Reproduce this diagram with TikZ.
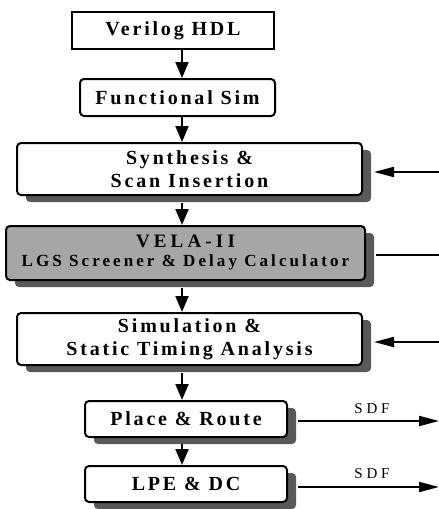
\documentclass[tikz,border=0pt]{standalone}
\usepackage{fontspec}
\setmainfont{Liberation Serif}
\newfontfamily\fa[LetterSpace=14]{Liberation Serif}
\newfontfamily\fb[LetterSpace=18]{Liberation Serif}
\newfontfamily\fv[LetterSpace=22]{Liberation Serif}
\newfontfamily\fc[LetterSpace=25]{Liberation Serif}
\usetikzlibrary{arrows.meta,shadows,calc}
\begin{document}
\begin{tikzpicture}[x=1pt,y=-1pt,
  boxbase/.style={draw=black,line width=2pt,fill=white,inner sep=0pt,align=center,
     font=\fa\bfseries\fontsize{20}{23}\selectfont},
  rbox/.style={boxbase,rounded corners=4pt},
  sbox/.style={rbox,drop shadow={shadow xshift=9pt,shadow yshift=-7pt,fill=black!65,opacity=1}},
  arr/.style={line width=2pt,-{Triangle[length=16pt,width=13pt]}},
  harr/.style={line width=2pt,-{Triangle[length=20pt,width=10pt]}},
  plain/.style={line width=2pt},
  sdf/.style={font=\fc\fontsize{15}{17}\selectfont,inner sep=0pt}]
\fill[white] (0,0) rectangle (439,509);
\useasboundingbox (0,0) rectangle (439,509);
\coordinate (ax) at (182,0);
\node[boxbase,minimum width=202pt,minimum height=37pt] (verilog) at (173,30.5) {Verilog HDL};
\node[rbox,minimum width=195pt,minimum height=37pt] (func) at (177.5,97.5) {Functional Sim};
\node[sbox,minimum width=345pt,minimum height=52pt] (synth) at (189.5,169) {Synthesis \&\\Scan Insertion};
\node[sbox,fill=black!35,minimum width=359pt,minimum height=54pt] (vela) at (185.5,253)
  {{\fv\bfseries\fontsize{19}{21}\selectfont VELA-II}\\[-4pt]{\fb\bfseries\fontsize{17}{20}\selectfont LGS Screener \& Delay Calculator}};
\node[sbox,minimum width=345pt,minimum height=52pt] (sim) at (189.5,339) {Simulation \&\\Static Timing Analysis};
\node[sbox,minimum width=202pt,minimum height=36pt] (pr) at (186,419) {Place \& Route};
\node[sbox,minimum width=202pt,minimum height=36pt] (lpe) at (186,484) {LPE \& DC};
% vertical flow
\draw[arr] (verilog.south -| ax) -- (func.north -| ax);
\draw[arr] (func.south -| ax) -- (synth.north -| ax);
\draw[arr] ([yshift=-7pt]synth.south -| ax) -- (vela.north -| ax);
\draw[arr] ([yshift=-7pt]vela.south -| ax) -- (sim.north -| ax);
\draw[arr] ([yshift=-7pt]sim.south -| ax) -- (pr.north -| ax);
\draw[arr] ([yshift=-6pt]pr.south -| ax) -- (lpe.north -| ax);
% right side inputs
\coordinate (r1) at (439,172);
\coordinate (r2) at (439,255);
\coordinate (r3) at (439,342);
\draw[harr] (r1) -- ([xshift=11pt]r1 -| synth.east);
\draw[plain] (r2) -- ([xshift=10pt]r2 -| vela.east);
\draw[harr] (r3) -- ([xshift=11pt]r3 -| sim.east);
% SDF outputs
\coordinate (o1) at (439,421);
\coordinate (o2) at (439,487);
\draw[harr] ([xshift=10pt]o1 -| pr.east) -- (o1);
\draw[harr] ([xshift=10pt]o2 -| lpe.east) -- (o2);
\node[sdf] (sdf1) at (372,409) {SDF};
\node[sdf] (sdf2) at (372,474) {SDF};
\end{tikzpicture}
\end{document}
